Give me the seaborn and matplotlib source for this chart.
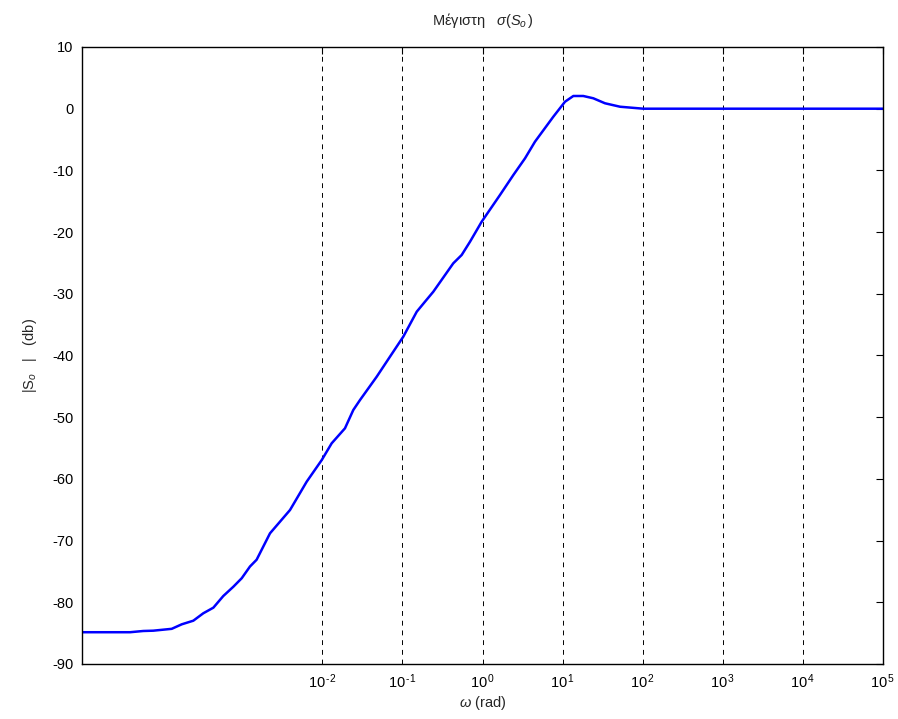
import numpy as np
import pandas as pd
import matplotlib
matplotlib.use("Agg")
import matplotlib.pyplot as plt
import seaborn as sns
from matplotlib.ticker import FixedLocator, FuncFormatter, NullLocator

# Data (log10 of omega, magnitude in dB)
omega_log10 = [-5.0, -4.40, -4.235, -4.11, -3.88, -3.755, -3.61, -3.486, -3.36,
               -3.236, -3.11, -3.006, -2.903, -2.82, -2.653, -2.403, -2.195,
               -2.007, -1.883, -1.717, -1.613, -1.529, -1.321, -1.155, -0.989,
               -0.821, -0.718, -0.614, -0.365, -0.26, -0.156, -0.01, 0.218,
               0.385, 0.531, 0.655, 0.884, 1.03, 1.134, 1.258, 1.383, 1.529,
               1.717, 2.008, 3.0, 4.0, 5.0]
mag_db = [-84.85, -84.85, -84.65, -84.6, -84.3, -83.57, -82.98, -81.78, -80.87,
          -78.98, -77.47, -76.1, -74.2, -73.1, -68.82, -65.04, -60.45,
          -56.94, -54.23, -51.8, -48.83, -47.21, -43.44, -40.19, -36.95,
          -32.9, -31.28, -29.66, -25.06, -23.71, -21.56, -18.31, -13.99,
          -10.75, -8.04, -5.35, -1.3, 1.13, 2.06, 2.06, 1.69, 0.88,
          0.32, 0.0, 0.0, 0.0, 0.0]
xtick_exponents = [-2, -1, 0, 1, 2, 3, 4, 5]
yticks = [-90, -80, -70, -60, -50, -40, -30, -20, -10, 0, 10]

omega = 10.0 ** np.array(omega_log10)
df = pd.DataFrame({"omega": omega, "mag": mag_db})

sns.set_style("white")
plt.rcParams["font.family"] = ["Liberation Sans", "DejaVu Sans"]
plt.rcParams["mathtext.fontset"] = "custom"
plt.rcParams["mathtext.rm"] = "Liberation Sans"
plt.rcParams["mathtext.it"] = "Liberation Sans:italic"
plt.rcParams["mathtext.bf"] = "Liberation Sans:bold"
plt.rcParams["axes.unicode_minus"] = False

fig = plt.figure(figsize=(8.98, 7.19), dpi=100)
ax = fig.add_axes([82 / 898, 1 - 664 / 719, (883 - 82) / 898, (664 - 47) / 719])

sns.lineplot(data=df, x="omega", y="mag", ax=ax, color="#0000ff",
             linewidth=1.8, sort=False, estimator=None)

ax.set_xscale("log")
ax.set_xlim(1e-5, 1e5)
ax.set_ylim(-90, 10)

xt = [10.0 ** e for e in xtick_exponents]
ax.xaxis.set_major_locator(FixedLocator(xt))
ax.xaxis.set_minor_locator(NullLocator())
ax.xaxis.set_major_formatter(FuncFormatter(
    lambda v, p: r"$10^{\,\text{%d}}$" % int(round(np.log10(v)))))
ax.set_yticks(yticks)

for v in xt[:-1]:
    ax.axvline(v, color="black", linestyle=(0, (5, 5)), linewidth=0.7, zorder=0)

ax.tick_params(axis="both", which="major", direction="in", length=5,
               width=0.8, top=True, right=True, labelsize=10.5, pad=6,
               colors="black")
for s in ax.spines.values():
    s.set_color("black")
    s.set_linewidth(1.0)

ax.set_xlabel(r"$\omega$ (rad)", fontsize=10.5, labelpad=2)
ax.set_ylabel(r"|S$_o$   |   (db)", fontsize=10.5, labelpad=10)
ax.set_title(r"Μέγιστη   $\sigma(S_{o}\,)$", fontsize=10.5, pad=16)

fig.savefig("out.png", dpi=100)
